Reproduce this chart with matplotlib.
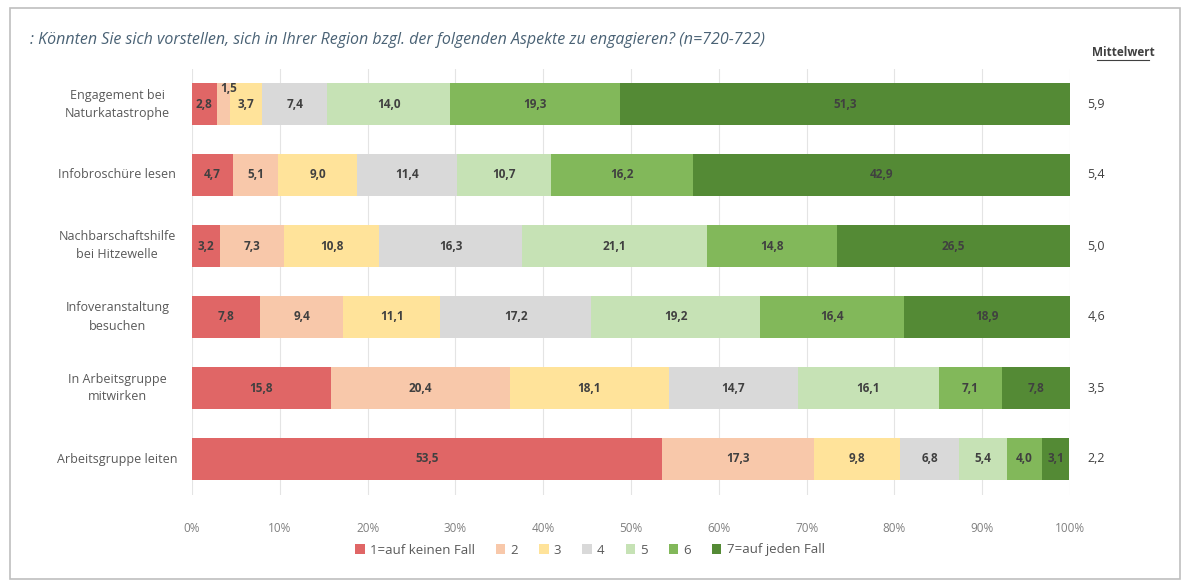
import matplotlib
matplotlib.use("Agg")
import matplotlib.pyplot as plt
from matplotlib.patches import Rectangle
from matplotlib.lines import Line2D
import numpy as np

plt.rcParams['font.family'] = ['Open Sans', 'DejaVu Sans']

categories = ["Engagement bei\nNaturkatastrophe", "Infobroschüre lesen",
              "Nachbarschaftshilfe\nbei Hitzewelle", "Infoveranstaltung\nbesuchen",
              "In Arbeitsgruppe\nmitwirken", "Arbeitsgruppe leiten"]
series_names = ["1=auf keinen Fall", "2", "3", "4", "5", "6", "7=auf jeden Fall"]
s1 = [2.8, 4.7, 3.2, 7.8, 15.8, 53.5]
s2 = [1.5, 5.1, 7.3, 9.4, 20.4, 17.3]
s3 = [3.7, 9.0, 10.8, 11.1, 18.1, 9.8]
s4 = [7.4, 11.4, 16.3, 17.2, 14.7, 6.8]
s5 = [14.0, 10.7, 21.1, 19.2, 16.1, 5.4]
s6 = [19.3, 16.2, 14.8, 16.4, 7.1, 4.0]
s7 = [51.3, 42.9, 26.5, 18.9, 7.8, 3.1]
means = [5.9, 5.4, 5.0, 4.6, 3.5, 2.2]
xticks = [0, 10, 20, 30, 40, 50, 60, 70, 80, 90, 100]

colors = ["#E06666", "#F8C8AA", "#FFE39A", "#D9D9D9", "#C6E2B5", "#82B85A", "#548A35"]
series = [s1, s2, s3, s4, s5, s6, s7]

W, H = 1191, 587
fig = plt.figure(figsize=(W/100, H/100), dpi=100)
ax = fig.add_axes([192/W, 1-494.5/H, 878/W, (494.5-68.5)/H])

y = np.arange(len(categories))
left = np.zeros(len(categories))
for si, (name, vals, c) in enumerate(zip(series_names, series, colors)):
    vals = np.array(vals)
    ax.barh(y, vals, left=left, height=0.58, color=c, label=name, zorder=2)
    for i, v in enumerate(vals):
        cx = left[i] + v/2
        dy = 0
        if si == 1 and i == 0:
            dy = -0.22
            cx += 0.6
        ax.text(cx, y[i] + dy, f"{v:.1f}".replace(".", ","), ha="center", va="center",
                fontsize=8.5, fontweight="bold", color="#404040", zorder=3)
    left += vals

ax.set_xlim(0, 100)
ax.set_ylim(len(categories) - 0.5, -0.5)
ax.set_xticks(xticks)
ax.set_xticklabels([f"{t}%" for t in xticks], fontsize=8.5, color="#808080")
ax.tick_params(axis="x", length=0, pad=20)
ax.set_yticks(y)
ax.set_yticklabels([])
ax.tick_params(axis="y", length=0)
ax.grid(axis="x", color="#E4E4E4", linewidth=0.8, zorder=0)
for s in ax.spines.values():
    s.set_visible(False)

for i, cat in enumerate(categories):
    ax.text(-0.085, y[i], cat, transform=ax.get_yaxis_transform(), ha="center", va="center",
            fontsize=9, color="#595959", multialignment="center", linespacing=1.5)
    ax.text(1.03, y[i], f"{means[i]:.1f}".replace(".", ","), transform=ax.get_yaxis_transform(),
            ha="center", va="center", fontsize=9, color="#404040")

fig.text(30/W, 1-40/H, ": Könnten Sie sich vorstellen, sich in Ihrer Region bzgl. der folgenden Aspekte zu engagieren? (n=720-722)",
         ha="left", va="center", fontsize=11.5, style="italic", color="#4A6275")
fig.text(1123/W, 1-52/H, "Mittelwert", ha="center", va="center", fontsize=8.5,
         fontweight="bold", color="#404040")
fig.add_artist(Line2D([1097/W, 1149/W], [1-60/H, 1-60/H], color="#404040", linewidth=0.8))

leg = fig.legend(loc="center", bbox_to_anchor=(590/W, 1-550/H), ncol=7, frameon=False,
                 fontsize=9.5, handlelength=0.7, handleheight=0.7, handletextpad=0.4,
                 columnspacing=1.6)
for t in leg.get_texts():
    t.set_color("#595959")

fig.add_artist(Rectangle((10/W, 8/H), 1170/W, 571/H, fill=False, edgecolor="#BFBFBF",
                         linewidth=1.2, transform=fig.transFigure))

fig.savefig("out.png", dpi=100)
